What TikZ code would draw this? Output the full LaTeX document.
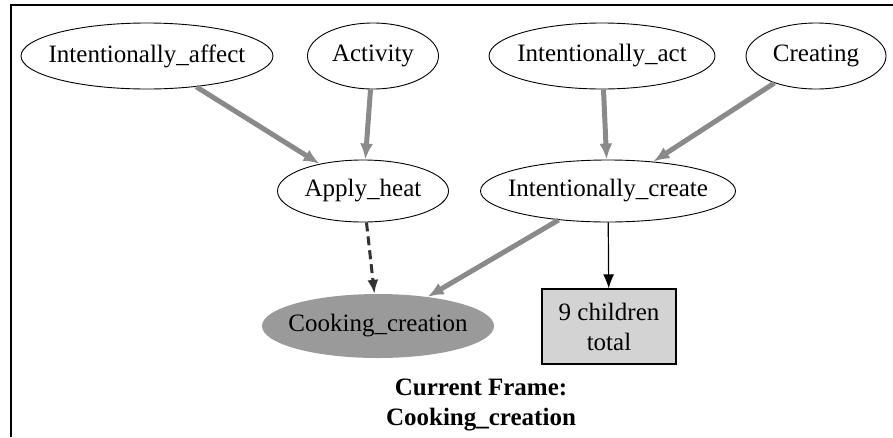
\documentclass[tikz,border=0pt]{standalone}
\usepackage{fontspec}
\setmainfont{Liberation Serif}
\usetikzlibrary{shapes.geometric,arrows.meta}
\definecolor{edgegray}{HTML}{8A8A8A}
\definecolor{dashgray}{HTML}{333333}
\definecolor{curfill}{HTML}{9A9A9A}
\definecolor{boxfill}{HTML}{D3D3D3}
% label of zero width, so the ellipse size comes only from its minimum size
\newcommand{\flatlabel}[1]{\makebox[0pt]{#1}}
\tikzset{
  frame/.style={ellipse, draw=black, line width=0.9pt, inner sep=0pt,
    font=\fontsize{25}{30}\selectfont},
  current/.style={ellipse, fill=curfill, draw=none, inner sep=0pt,
    font=\fontsize{25}{30}\selectfont},
  countbox/.style={rectangle, fill=boxfill, draw=black, line width=1.2pt,
    inner sep=0pt, align=center, font=\fontsize{25}{30}\selectfont},
  inherit/.style={draw=edgegray, line width=5pt,
    -{Latex[length=16pt,width=13pt]}},
  using/.style={draw=dashgray, line width=3pt, dash pattern=on 9pt off 5pt,
    -{Latex[length=14pt,width=11pt]}},
  childlink/.style={draw=black, line width=1.2pt,
    -{Latex[length=14pt,width=11pt]}},
  caption/.style={anchor=base, font=\bfseries\fontsize{25}{30}\selectfont}
}
\begin{document}
\begin{tikzpicture}[x=1pt,y=-1pt]
  \useasboundingbox (0,0) rectangle (893,437);
  % outer frame, open at the right and bottom
  \draw[line width=2pt] (11,437) -- (11,5) -- (893,5);

  % parent frames
  \node[frame, minimum width=252pt, minimum height=66pt] (iaffect) at (147,56) {\flatlabel{Intentionally\_affect}};
  \node[frame, minimum width=131pt, minimum height=66pt] (activity) at (373,56) {\flatlabel{Activity}};
  \node[frame, minimum width=226pt, minimum height=66pt] (iact) at (602,56) {\flatlabel{Intentionally\_act}};
  \node[frame, minimum width=140pt, minimum height=66pt] (creating) at (816,56) {\flatlabel{Creating}};

  % middle frames
  \node[frame, minimum width=171pt, minimum height=62pt] (heat) at (363,191) {\flatlabel{Apply\_heat}};
  \node[frame, minimum width=255pt, minimum height=62pt] (icreate) at (608,191) {\flatlabel{Intentionally\_create}};

  % current frame and child count
  \node[current, minimum width=232pt, minimum height=64pt] (cooking) at (378,326) {\flatlabel{Cooking\_creation}};
  \node[countbox, minimum width=134pt, minimum height=75pt] (children) at (609,326.5) {9 children\\total};

  % relations
  \draw[inherit] (iaffect) -- (heat);
  \draw[inherit] (activity) -- (heat);
  \draw[inherit] (iact) -- (icreate);
  \draw[inherit] (creating) -- (icreate);
  \draw[using] (heat) -- (cooking);
  \draw[inherit] (icreate) -- (cooking);
  \draw[childlink] (icreate) -- (children);

  % caption
  \node[caption] (title1) at (481,395) {Current Frame:};
  \node[caption] (title2) at (481,425) {Cooking\_creation};
\end{tikzpicture}
\end{document}
